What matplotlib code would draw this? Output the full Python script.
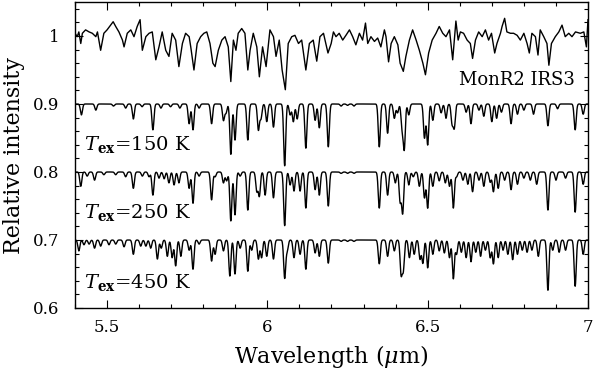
import numpy as np
import matplotlib
matplotlib.use('Agg')
import matplotlib.pyplot as plt

obs_wave = [5.400, 5.407, 5.412, 5.418, 5.423, 5.433, 5.444, 5.454, 5.465, 5.470,
            5.480, 5.490, 5.500, 5.511, 5.519, 5.527, 5.537, 5.548, 5.553, 5.563,
            5.574, 5.584, 5.594, 5.603, 5.610, 5.621, 5.631, 5.641, 5.652, 5.662,
            5.672, 5.683, 5.693, 5.703, 5.714, 5.724, 5.735, 5.745, 5.756, 5.761,
            5.771, 5.781, 5.792, 5.802, 5.811, 5.821, 5.830, 5.837, 5.847, 5.858,
            5.868, 5.878, 5.886, 5.894, 5.902, 5.909, 5.920, 5.930, 5.939, 5.946,
            5.956, 5.967, 5.975, 5.985, 5.996, 6.008, 6.019, 6.027, 6.037, 6.046,
            6.056, 6.065, 6.076, 6.086, 6.097, 6.107, 6.120, 6.131, 6.143, 6.154,
            6.164, 6.175, 6.189, 6.199, 6.206, 6.214, 6.224, 6.235, 6.245, 6.256,
            6.266, 6.276, 6.287, 6.297, 6.306, 6.313, 6.323, 6.334, 6.344, 6.354,
            6.365, 6.370, 6.378, 6.386, 6.396, 6.407, 6.414, 6.424, 6.432, 6.443,
            6.453, 6.464, 6.474, 6.485, 6.493, 6.503, 6.514, 6.526, 6.536, 6.547,
            6.557, 6.568, 6.578, 6.588, 6.595, 6.602, 6.612, 6.623, 6.633, 6.640,
            6.649, 6.659, 6.670, 6.680, 6.690, 6.699, 6.709, 6.716, 6.727, 6.732,
            6.740, 6.747, 6.758, 6.768, 6.779, 6.789, 6.800, 6.810, 6.817, 6.825,
            6.836, 6.844, 6.851, 6.862, 6.872, 6.878, 6.886, 6.898, 6.909, 6.919,
            6.929, 6.940, 6.950, 6.961, 6.976, 6.987, 6.995, 7.000]
obs_flux = [1.004, 0.999, 1.006, 0.989, 1.004, 1.009, 1.006, 1.004, 0.999, 1.006,
            0.979, 1.004, 1.009, 1.016, 1.021, 1.014, 1.006, 0.994, 0.984, 1.004,
            1.009, 0.999, 1.014, 1.024, 0.979, 0.999, 1.004, 1.006, 0.965, 0.984,
            1.006, 0.979, 0.970, 1.004, 0.994, 0.955, 0.989, 1.004, 0.999, 0.984,
            0.950, 0.989, 0.999, 1.004, 1.006, 0.989, 0.960, 0.955, 0.979, 0.994,
            0.999, 0.984, 0.933, 0.994, 0.979, 1.004, 1.011, 1.004, 0.950, 0.979,
            1.004, 0.984, 0.940, 0.984, 0.955, 1.009, 0.999, 0.970, 0.994, 0.950,
            0.921, 0.989, 0.999, 1.001, 0.989, 0.994, 0.950, 0.989, 0.994, 0.963,
            0.999, 1.004, 0.975, 0.989, 1.006, 0.999, 1.004, 0.994, 1.001, 1.009,
            0.999, 0.987, 1.004, 0.994, 1.019, 0.989, 0.999, 0.992, 0.997, 0.984,
            1.009, 0.999, 0.962, 0.989, 0.999, 0.987, 0.960, 0.948, 0.970, 0.994,
            1.009, 0.994, 0.979, 0.960, 0.943, 0.975, 0.994, 1.004, 1.014, 1.004,
            0.999, 1.009, 0.965, 1.022, 0.994, 1.006, 1.004, 0.994, 0.989, 0.967,
            0.994, 1.006, 0.999, 1.009, 0.994, 1.004, 0.975, 0.989, 1.004, 1.014,
            1.026, 1.006, 1.004, 1.004, 1.001, 0.994, 1.004, 0.989, 0.975, 1.004,
            0.999, 0.972, 1.009, 0.999, 0.989, 0.957, 0.989, 0.999, 1.006, 1.016,
            0.999, 1.004, 0.999, 1.006, 1.004, 1.006, 0.984, 1.024]

# model line lists: centre (um) and depth below the continuum
lines_150_wave = [5.420, 5.465, 5.520, 5.558, 5.582, 5.609, 5.643, 5.668, 5.698, 5.727,
                  5.756, 5.768, 5.787, 5.826, 5.863, 5.871, 5.886, 5.899, 5.939, 5.972,
                  5.980, 5.998, 6.019, 6.054, 6.071, 6.081, 6.093, 6.120, 6.149, 6.162,
                  6.190, 6.230, 6.250, 6.270, 6.349, 6.375, 6.396, 6.406, 6.420, 6.427,
                  6.441, 6.490, 6.500, 6.516, 6.542, 6.557, 6.576, 6.583, 6.620, 6.635,
                  6.660, 6.675, 6.700, 6.715, 6.730, 6.760, 6.780, 6.800, 6.830, 6.875,
                  6.905, 6.960, 6.985]
lines_150_depth = [0.016, 0.009, 0.003, 0.006, 0.022, 0.004, 0.038, 0.006, 0.004, 0.006,
                   0.029, 0.038, 0.006, 0.029, 0.024, 0.013, 0.074, 0.053, 0.053, 0.038,
                   0.021, 0.026, 0.034, 0.091, 0.016, 0.026, 0.022, 0.065, 0.024, 0.035,
                   0.063, 0.003, 0.002, 0.003, 0.063, 0.043, 0.021, 0.013, 0.034, 0.065,
                   0.016, 0.050, 0.060, 0.024, 0.013, 0.021, 0.028, 0.034, 0.012, 0.029,
                   0.009, 0.018, 0.026, 0.021, 0.012, 0.029, 0.015, 0.009, 0.015, 0.032,
                   0.007, 0.038, 0.015]

lines_250_wave = [5.418, 5.438, 5.461, 5.490, 5.527, 5.558, 5.582, 5.610, 5.631, 5.643,
                  5.662, 5.678, 5.693, 5.709, 5.724, 5.756, 5.768, 5.787, 5.826, 5.837,
                  5.863, 5.873, 5.886, 5.899, 5.915, 5.939, 5.967, 5.975, 5.993, 6.019,
                  6.054, 6.071, 6.083, 6.102, 6.120, 6.149, 6.162, 6.190, 6.230, 6.250,
                  6.270, 6.349, 6.375, 6.399, 6.414, 6.422, 6.441, 6.455, 6.474, 6.490,
                  6.500, 6.516, 6.536, 6.555, 6.568, 6.580, 6.590, 6.610, 6.625, 6.640,
                  6.660, 6.675, 6.695, 6.705, 6.720, 6.740, 6.760, 6.780, 6.800, 6.820,
                  6.840, 6.875, 6.900, 6.930, 6.960, 6.985]
lines_250_depth = [0.021, 0.006, 0.012, 0.004, 0.004, 0.007, 0.024, 0.006, 0.007, 0.034,
                   0.009, 0.010, 0.016, 0.019, 0.016, 0.024, 0.046, 0.006, 0.041, 0.007,
                   0.016, 0.013, 0.072, 0.063, 0.006, 0.056, 0.028, 0.035, 0.034, 0.038,
                   0.079, 0.019, 0.028, 0.028, 0.053, 0.026, 0.034, 0.050, 0.002, 0.002,
                   0.002, 0.053, 0.034, 0.016, 0.043, 0.060, 0.019, 0.007, 0.021, 0.038,
                   0.053, 0.021, 0.013, 0.016, 0.021, 0.053, 0.007, 0.012, 0.018, 0.029,
                   0.012, 0.021, 0.015, 0.029, 0.024, 0.012, 0.026, 0.018, 0.009, 0.012,
                   0.018, 0.056, 0.012, 0.009, 0.059, 0.018]

lines_450_wave = [5.412, 5.428, 5.444, 5.461, 5.480, 5.506, 5.527, 5.553, 5.582, 5.605,
                  5.621, 5.636, 5.657, 5.669, 5.688, 5.703, 5.714, 5.730, 5.756, 5.768,
                  5.787, 5.826, 5.837, 5.863, 5.883, 5.899, 5.915, 5.939, 5.951, 5.972,
                  5.982, 5.998, 6.019, 6.054, 6.062, 6.083, 6.102, 6.120, 6.149, 6.162,
                  6.190, 6.230, 6.250, 6.270, 6.349, 6.375, 6.396, 6.417, 6.424, 6.443,
                  6.458, 6.476, 6.485, 6.500, 6.516, 6.536, 6.552, 6.568, 6.580, 6.590,
                  6.605, 6.620, 6.635, 6.650, 6.665, 6.680, 6.695, 6.705, 6.720, 6.735,
                  6.750, 6.765, 6.780, 6.795, 6.810, 6.825, 6.845, 6.875, 6.890, 6.910,
                  6.930, 6.960, 6.985]
lines_450_depth = [0.016, 0.007, 0.006, 0.012, 0.009, 0.007, 0.006, 0.010, 0.021, 0.009,
                   0.009, 0.012, 0.028, 0.012, 0.024, 0.026, 0.038, 0.024, 0.015, 0.043,
                   0.006, 0.031, 0.021, 0.016, 0.053, 0.050, 0.012, 0.046, 0.015, 0.028,
                   0.026, 0.024, 0.028, 0.056, 0.015, 0.026, 0.021, 0.043, 0.019, 0.024,
                   0.034, 0.002, 0.002, 0.002, 0.035, 0.024, 0.016, 0.049, 0.043, 0.026,
                   0.021, 0.028, 0.034, 0.041, 0.021, 0.016, 0.019, 0.026, 0.057, 0.021,
                   0.018, 0.026, 0.032, 0.018, 0.024, 0.015, 0.026, 0.035, 0.026, 0.015,
                   0.021, 0.029, 0.021, 0.015, 0.018, 0.015, 0.024, 0.074, 0.015, 0.018,
                   0.015, 0.068, 0.021]

model_levels = [0.9, 0.8, 0.7]
model_labels = ['150', '250', '450']
label_y = [0.84, 0.741, 0.638]


def model_spectrum(wave, centres, depths, level, width=0.0032):
    flux = np.full_like(wave, level)
    for c, d in zip(centres, depths):
        flux -= d * np.exp(-0.5 * ((wave - c) / width) ** 2)
    return flux


plt.rcParams['font.family'] = 'DejaVu Serif'
plt.rcParams['mathtext.fontset'] = 'dejavuserif'

fig = plt.figure(figsize=(5.96, 3.76), dpi=100)
ax = fig.add_axes([75 / 596, 68 / 376, 513 / 596, 306 / 376])

ax.plot(obs_wave, obs_flux, color='black', lw=1.0)

grid = np.linspace(5.4, 7.0, 4000)
models = [(lines_150_wave, lines_150_depth),
          (lines_250_wave, lines_250_depth),
          (lines_450_wave, lines_450_depth)]
for (cw, cd), lev, lab, ly in zip(models, model_levels, model_labels, label_y):
    ax.plot(grid, model_spectrum(grid, cw, cd, lev), color='black', lw=1.0)
    ax.text(5.428, ly, r'$T_{\mathbf{ex}}$=' + lab + ' K', fontsize=14,
            ha='left', va='center')

ax.text(6.96, 0.935, 'MonR2 IRS3', fontsize=13, ha='right', va='center')

ax.set_xlim(5.4, 7.0)
ax.set_ylim(0.6, 1.05)
ax.set_xticks([5.5, 6.0, 6.5, 7.0])
ax.set_xticklabels(['5.5', '6', '6.5', '7'])
ax.set_xticks(np.arange(5.4, 7.01, 0.1), minor=True)
ax.set_yticks([0.6, 0.7, 0.8, 0.9, 1.0])
ax.set_yticklabels(['0.6', '0.7', '0.8', '0.9', '1'])
ax.set_yticks(np.arange(0.6, 1.051, 0.02), minor=True)
ax.tick_params(which='both', direction='in', top=True, right=True,
               labelsize=12, width=0.8)
ax.tick_params(which='major', length=6)
ax.tick_params(axis='x', which='major', pad=8)
ax.tick_params(axis='y', which='major', pad=11)
ax.tick_params(which='minor', length=3)
for s in ax.spines.values():
    s.set_linewidth(1.0)

ax.set_xlabel(r'Wavelength ($\mu$m)', fontsize=16, labelpad=5)
ax.set_ylabel('Relative intensity', fontsize=16, labelpad=6)

fig.savefig('out.png', dpi=100)
